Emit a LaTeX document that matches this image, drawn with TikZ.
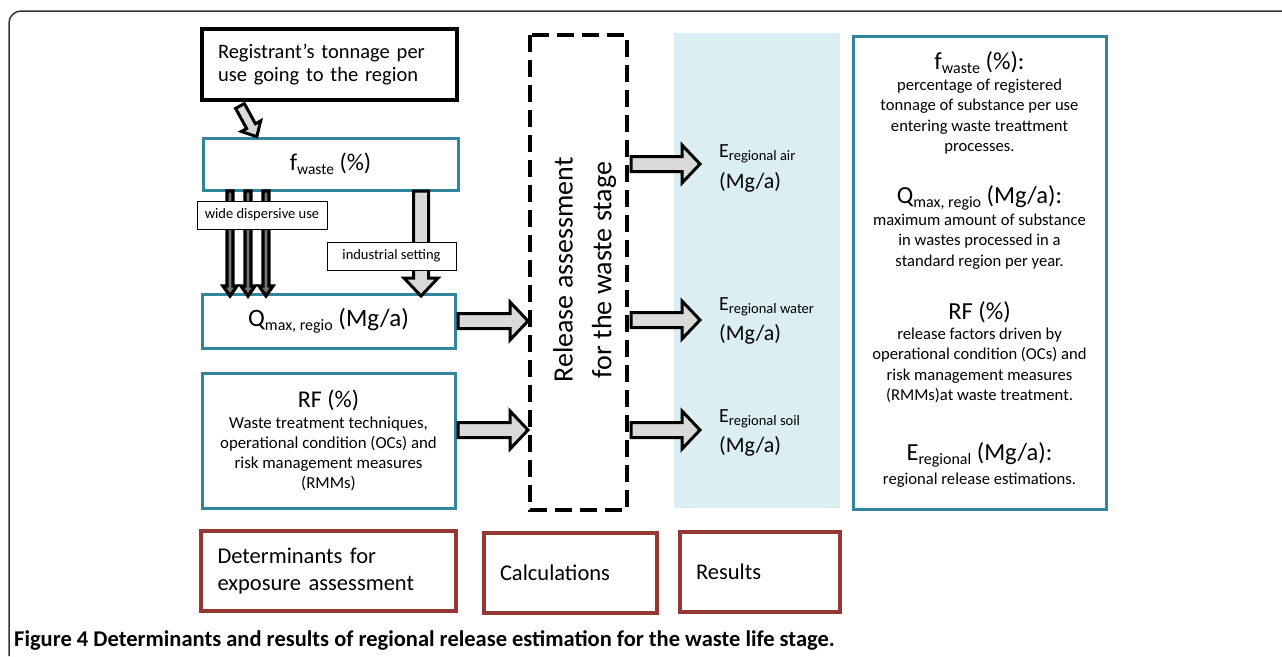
\documentclass[tikz,border=0pt]{standalone}
\usepackage{fontspec}
\setmainfont{Carlito}
\usetikzlibrary{calc}

\definecolor{teal5}{HTML}{31859C}
\definecolor{brick}{HTML}{953735}
\definecolor{paleblue}{HTML}{DAEEF3}
\definecolor{arrowgray}{HTML}{D9D9D9}

% font size / baseline skip in pt
\newcommand\fs[2]{\fontsize{#1}{#2}\selectfont}
% lowered smaller text used for the indices
\newcommand\lowtext[2][14.5]{\raisebox{-0.35ex}{\fontsize{#1}{#1}\selectfont #2}}
% hollow block arrow along +x: #1 placement, #2 length, #3 shaft half width,
% #4 head half width, #5 head length
\newcommand\blockarrow[5]{%
  \draw[blockarrow,#1] (0,-#3) -- ({#2-#5},-#3) -- ({#2-#5},-#4) -- (#2,0)
    -- ({#2-#5},#4) -- ({#2-#5},#3) -- (0,#3) -- cycle;}

\tikzset{
  tealbox/.style={draw=teal5, line width=3pt, fill=white, rectangle, inner sep=0pt},
  blackbox/.style={draw=black, line width=4pt, fill=white, rectangle, inner sep=0pt},
  redbox/.style={draw=brick, line width=4pt, fill=white, rectangle, inner sep=0pt},
  tagbox/.style={draw=black, line width=0.8pt, fill=white, rectangle, inner sep=0pt,
    font=\fs{14.5}{16}},
  blockarrow/.style={draw=black, line width=3pt, fill=arrowgray, line join=miter},
  txt/.style={inner sep=0pt, align=center},
}

\begin{document}
\begin{tikzpicture}[x=1pt,y=-1pt]
\useasboundingbox (0,0) rectangle (1282,656);

% figure frame
\draw[line width=1.5pt, black!80, rounded corners=12pt] (1282,11) -- (9,11) -- (9,656);

% results column background
\fill[paleblue] (674,33) rectangle (840,508);

% determinants
\node[blackbox, minimum width=255pt, minimum height=71pt, text width=223pt,
      align=left, font=\fs{20.5}{22.5}] (reg) at (329.5,64.5)
  {Registrant’s tonnage per\\use going to the region};
\node[tealbox, minimum width=255pt, minimum height=52pt, font=\fs{24}{27}] (fw) at (330.5,164)
  {f\lowtext[15.5]{waste} (\%)};
\node[tealbox, minimum width=253pt, minimum height=54pt, font=\fs{25}{28}] (qm) at (328.5,321)
  {Q\lowtext[16]{max, regio} (Mg/a)};
\node[tealbox, minimum width=253pt, minimum height=135pt] (rf) at (328.5,440.5) {};
\node[txt, font=\fs{24}{27}] (rfh) at (328.5,400) {RF (\%)};
\node[txt, font=\fs{16.8}{19.8}, anchor=north] (rft) at (328.5,417)
  {Waste treatment techniques,\\operational condition (OCs) and\\risk management measures\\(RMMs)};

% flows between the determinants
\blockarrow{shift={(240,106)}, rotate=-61.3}{35}{5}{11}{12}
\begin{scope}[blockarrow/.append style={fill=black!55, line width=3.2pt}]
\foreach \ax in {230,248,266}
  \blockarrow{shift={(\ax,191)}, rotate=-90}{105}{3}{7}{10};
\end{scope}
\blockarrow{shift={(421,191)}, rotate=-90}{105}{7.5}{17}{18}
\node[tagbox, minimum width=130pt, minimum height=28pt] (wide) at (262,215) {wide dispersive use};
\node[tagbox, minimum width=129pt, minimum height=28pt] (ind) at (391.5,256) {industrial setting};

% calculation
\draw[line width=4pt, dash pattern=on 17pt off 8pt] (530,35) rectangle (627,510);
\node[txt, rotate=90, font=\fs{28}{32}] (rel1) at (563,270) {Release assessment};
\node[txt, rotate=90, font=\fs{28}{32}] (rel2) at (604,270) {for the waste stage};

\blockarrow{shift={(458,321)}}{70}{7.5}{19}{18}
\blockarrow{shift={(458,430)}}{70}{7.5}{19}{18}

% results
\foreach \ay in {164,320,430}
  \blockarrow{shift={(631,\ay)}}{69}{7.5}{19}{18};
\node[txt, anchor=west, font=\fs{20}{22}] (eair) at (719,154) {E\lowtext{regional air}};
\node[txt, anchor=west, font=\fs{22}{24}] (eairu) at (719,182) {(Mg/a)};
\node[txt, anchor=west, font=\fs{20}{22}] (ewat) at (719,307) {E\lowtext{regional water}};
\node[txt, anchor=west, font=\fs{22}{24}] (ewatu) at (719,334) {(Mg/a)};
\node[txt, anchor=west, font=\fs{20}{22}] (esoil) at (719,419) {E\lowtext{regional soil}};
\node[txt, anchor=west, font=\fs{22}{24}] (esoilu) at (719,446) {(Mg/a)};

% definitions
\node[tealbox, minimum width=253pt, minimum height=473pt] (defs) at (979.5,272.5) {};
\node[txt, font=\fs{24.5}{27}] (dfh) at (979.5,63) {f\lowtext[16]{waste} (\%):};
\node[txt, font=\fs{16.6}{20.2}, anchor=north] (dft) at (979.5,79)
  {percentage of registered\\tonnage of substance per use\\entering waste treattment\\processes.};
\node[txt, font=\fs{24.5}{27}] (dqh) at (979.5,198) {Q\lowtext[16]{max, regio} (Mg/a):};
\node[txt, font=\fs{16.6}{20.2}, anchor=north] (dqt) at (979.5,214)
  {maximum amount of substance\\in wastes processed in a\\standard region per year.};
\node[txt, font=\fs{24.5}{27}] (drh) at (979.5,312) {RF (\%)};
\node[txt, font=\fs{16.6}{20.2}, anchor=north] (drt) at (979.5,328)
  {release factors driven by\\operational condition (OCs) and\\risk management measures\\(RMMs)at waste treatment.};
\node[txt, font=\fs{24.5}{27}] (deh) at (979.5,455) {E\lowtext[16]{regional} (Mg/a):};
\node[txt, font=\fs{16.6}{20.2}, anchor=north] (det) at (979.5,473)
  {regional release estimations.};

% column legend
\node[redbox, minimum width=255pt, minimum height=80pt, text width=222pt, align=left,
      font=\fs{22.5}{27}] (lega) at (328.5,571) {Determinants for\\exposure assessment};
\node[redbox, minimum width=173pt, minimum height=80pt, text width=141pt, align=left,
      font=\fs{22.5}{27}] (legb) at (570.5,573) {Calculations};
\node[redbox, minimum width=160pt, minimum height=80pt, text width=128pt, align=left,
      font=\fs{22.5}{27}] (legc) at (760,572) {Results};

% caption
\node[txt, anchor=west, font=\fs{22.5}{26}\bfseries] (cap) at (14,640)
  {Figure 4 Determinants and results of regional release estimation for the waste life stage.};
\end{tikzpicture}
\end{document}
